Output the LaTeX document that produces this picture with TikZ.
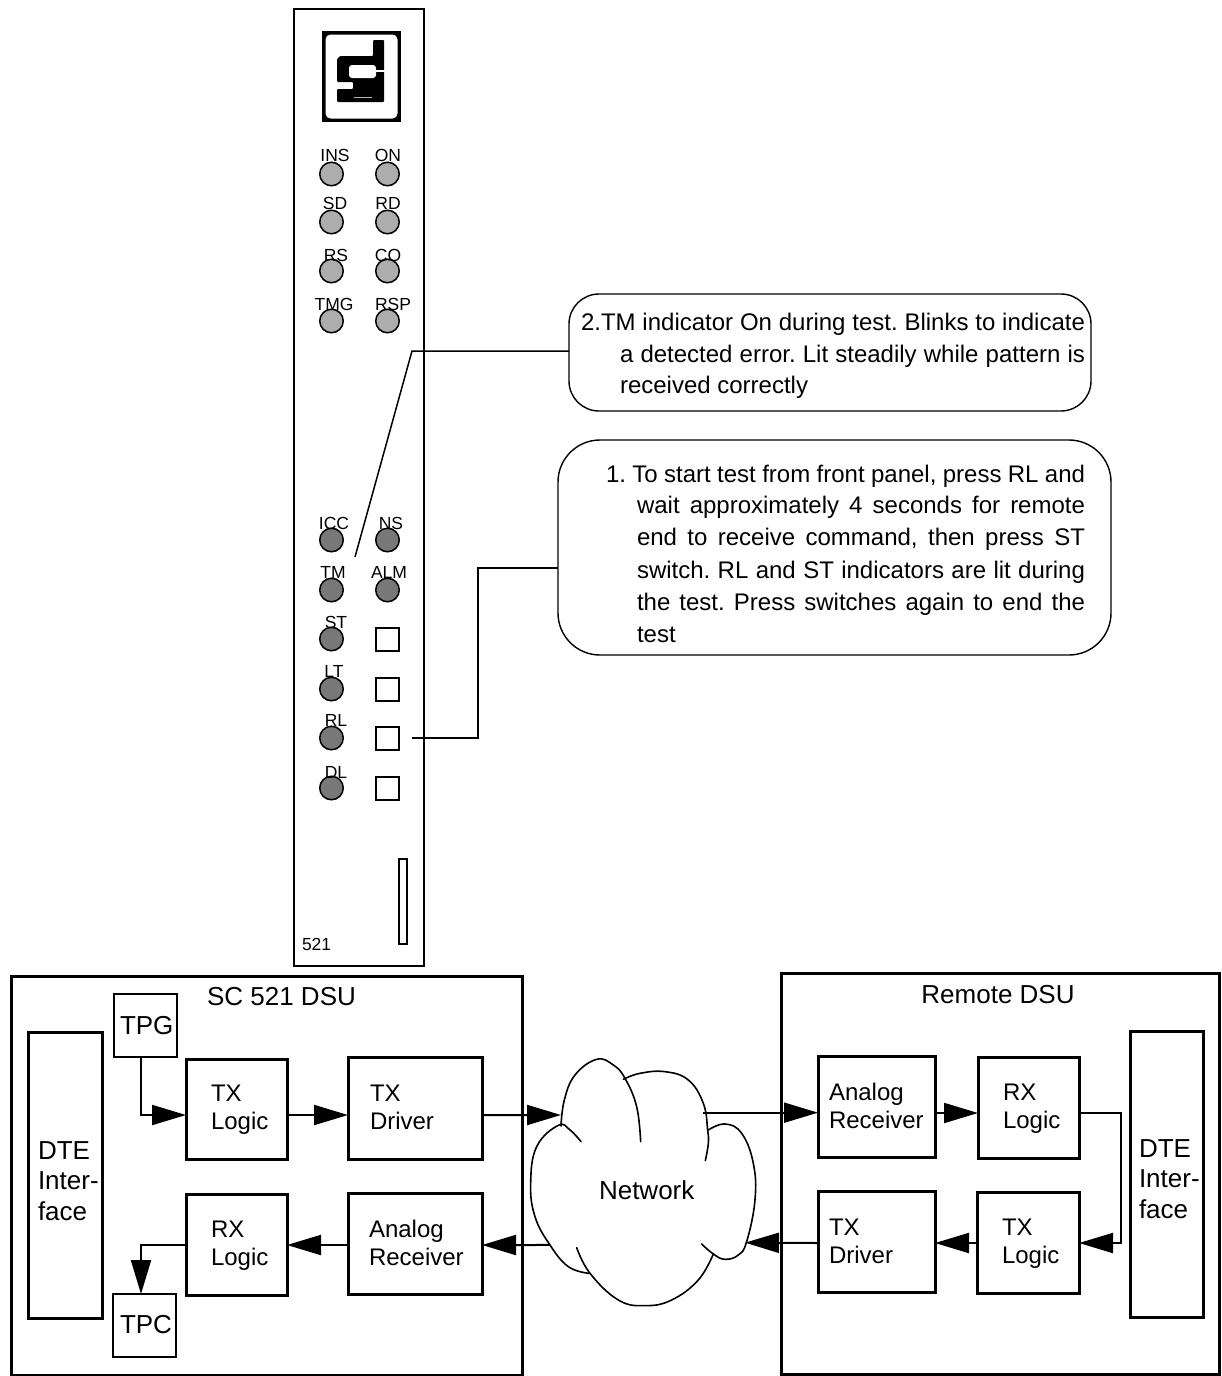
\documentclass[tikz,border=0pt]{standalone}
\usepackage{fontspec}
\setmainfont{Liberation Sans}
\usetikzlibrary{arrows.meta}
\definecolor{ledlight}{gray}{0.68}
\definecolor{leddark}{gray}{0.47}
\tikzset{
 x=1pt,y=-1pt,
 every node/.append style={outer sep=0pt},
 box/.style={draw,line width=3pt,anchor=north west,inner sep=0pt},
 tbox/.style={draw,line width=2pt,anchor=north west,inner sep=0pt},
 lab/.style={font=\fontsize{24}{28}\selectfont,inner sep=0pt,align=left,anchor=west},
 labbig/.style={font=\fontsize{26}{30.5}\selectfont,inner sep=0pt,align=left},
 led/.style={draw,circle,line width=1.5pt,minimum size=23.5pt,inner sep=0pt},
 ledA/.style={led,fill=ledlight},
 ledB/.style={led,fill=leddark},
 pl/.style={font=\fontsize{17.5}{20}\selectfont,inner sep=0pt},
 sw/.style={draw,line width=2pt,minimum size=23pt,inner sep=0pt},
 conn/.style={line width=2pt},
 big/.style={-{Triangle[length=34pt,width=20pt]},line width=2pt},
 note/.style={font=\fontsize{24}{32}\selectfont\frenchspacing,inner sep=0pt,anchor=base west},
 cloudline/.style={line width=1.6pt,line cap=round},
}
\begin{document}
\begin{tikzpicture}
\useasboundingbox (0,0) rectangle (1222,1376);
% panel
\node[draw,line width=1.8pt,anchor=north west,minimum width=130pt,minimum height=957pt,inner sep=0pt] (panel) at (294,9) {};
\node[draw=black,line width=3pt,fill=black,anchor=north west,minimum width=76pt,minimum height=88pt,inner sep=0pt] (logo) at (323.5,32.5) {};
\fill[white,rounded corners=5pt] (325.5,34.5) rectangle (397.5,118.5);
\fill[black,rounded corners=1pt] (373,40) -- (384,40) -- (384,102) -- (337,102) -- (337,89) -- (353,89) -- (353,82) -- (337,82) -- (337,59) -- (340,56) -- (373,56) -- cycle;
\fill[white,rounded corners=3pt] (349,65) rectangle (376,78);
\fill[white] (372,65) rectangle (374,78);
\draw[white,line width=1.2pt] (372,71) -- (385,71);
\draw[white,line width=1pt] (337,87.5) -- (352,87.5);
\draw[gray!60,line width=1pt] (354,97) -- (372,97);
% LEDs
\foreach \n/\x/\y in {a/331.5/174,b/387.5/174,c/331.5/222,d/387.5/222,e/331.5/271,f/387.5/271,g/331.5/321,h/387.5/321}{
 \node[ledA] (l\n) at (\x,\y) {};
}
\foreach \n/\x/\y in {i/331.5/540,j/387.5/540,k/331.5/590,l/387.5/590,m/331.5/639,n/331.5/689,o/331.5/738,p/331.5/788}{
 \node[ledB] (l\n) at (\x,\y) {};
}
\foreach \n/\t/\x/\y in {a/INS/335/155,b/ON/388/155,c/SD/335/203,d/RD/388/203,e/RS/336/255,f/CO/388/255,g/TMG/334/304,h/RSP/393/304,
 i/ICC/334/523,j/NS/391/523,k/TM/333/572,l/ALM/389/572,m/ST/336/622,n/LT/334/671,o/RL/336/720,p/DL/336/772}{
 \node[pl] (t\n) at (\x,\y) {\t};
}
\node[sw] (s1) at (387.5,639) {};
\node[sw] (s2) at (387.5,689) {};
\node[sw] (s3) at (387.5,738) {};
\node[sw] (s4) at (387.5,788) {};
\node[draw,line width=1.8pt,anchor=north west,minimum width=8pt,minimum height=85pt,inner sep=0pt] (slot) at (399,859) {};
\node[pl,anchor=west] (num) at (302,944) {521};
% callouts
\node[draw,line width=1.4pt,rounded corners=30pt,anchor=north west,minimum width=522pt,minimum height=117pt,inner sep=0pt] (c2) at (569,294) {};
\node[draw,line width=1.4pt,rounded corners=42pt,anchor=north west,minimum width=553pt,minimum height=215pt,inner sep=0pt] (c1) at (558,440) {};
\node[note] (n2a) at (581,330) {\makebox[504pt][s]{2.TM indicator On during test. Blinks to indicate}};
\node[note] (n2b) at (620,362) {\makebox[465pt][s]{a detected error. Lit steadily while pattern is}};
\node[note] (n2c) at (620,393) {received correctly};
\node[note] (n1a) at (606,482) {\makebox[479pt][s]{1. To start test from front panel, press RL and}};
\node[note] (n1b) at (637,513) {\makebox[448pt][s]{wait approximately 4 seconds for remote}};
\node[note] (n1c) at (637,545) {\makebox[448pt][s]{end to receive command, then press ST}};
\node[note] (n1d) at (637,578) {\makebox[448pt][s]{switch. RL and ST indicators are lit during}};
\node[note] (n1e) at (637,610) {\makebox[448pt][s]{the test. Press switches again to end the}};
\node[note] (n1f) at (637,642) {test};
\coordinate (c2s) at (355,557);
\coordinate (c2k) at (412,351);
\coordinate (c1s) at (412,738);
\coordinate (c1k) at (478,738);
\coordinate (c1t) at (478,568);
\draw[line width=1.5pt] (c2s) -- (c2k) -- (c2k-|c2.west);
\draw[conn] (c1s) -- (c1k) -- (c1t) -- (c1t-|c1.west);
% DSU containers
\node[box,minimum width=511pt,minimum height=399pt] (dsu) at (11,976) {};
\node[box,minimum width=438pt,minimum height=401pt] (rem) at (781,973) {};
\node[labbig] (dsut) at (281.5,997) {SC 521 DSU};
\node[labbig] (remt) at (998,995) {Remote DSU};
% left blocks
\node[tbox,minimum width=63pt,minimum height=63pt] (tpg) at (114,994) {};
\node[labbig,anchor=west] (tpgt) at (120,1026) {TPG};
\node[box,minimum width=74pt,minimum height=286pt] (dtel) at (28,1032) {};
\node[labbig,anchor=west] (dtelt) at (38,1181) {DTE\\Inter-\\face};
\node[box,minimum width=101pt,minimum height=100pt] (txl) at (186,1059) {};
\node[lab] (txlt) at (211,1110) {TX\\Logic};
\node[box,minimum width=134pt,minimum height=102pt] (drv) at (348,1057) {};
\node[lab] (drvt) at (370,1107) {TX\\Driver};
\node[box,minimum width=101pt,minimum height=101pt] (rxl) at (186,1194) {};
\node[lab] (rxlt) at (211,1246) {RX\\Logic};
\node[box,minimum width=134pt,minimum height=101pt] (ana) at (348,1193) {};
\node[lab] (anat) at (369,1243) {Analog\\Receiver};
\node[tbox,minimum width=63pt,minimum height=63pt] (tpc) at (113,1294) {};
\node[labbig,anchor=west] (tpct) at (120,1325) {TPC};
% right blocks
\node[box,minimum width=117pt,minimum height=101pt] (anr) at (818,1056) {};
\node[lab] (anrt) at (829,1106) {Analog\\Receiver};
\node[box,minimum width=101pt,minimum height=101pt] (rxr) at (978,1057) {};
\node[lab] (rxrt) at (1003,1109) {RX\\Logic};
\node[box,minimum width=117pt,minimum height=101pt] (drr) at (818,1191) {};
\node[lab] (drrt) at (829,1241) {TX\\Driver};
\node[box,minimum width=102pt,minimum height=101pt] (txr) at (977,1192) {};
\node[lab] (txrt) at (1002,1244) {TX\\Logic};
\node[box,minimum width=73pt,minimum height=286pt] (dter) at (1130,1031) {};
\node[labbig,anchor=west] (dtert) at (1139,1179) {DTE\\Inter-\\face};
% cloud
\begin{scope}[xshift=525pt,yshift=-1050pt,x=.3333pt,y=-.3333pt]
\draw[cloudline] plot[smooth,tension=.7] coordinates {(108,228) (118,150) (150,75) (215,28) (265,45) (300,85) (335,170) (347,275)};
\draw[cloudline] plot[smooth,tension=.7] coordinates {(295,88) (345,70) (420,65) (490,90) (535,160) (548,240) (550,280) (541,332)};
\draw[cloudline] plot[smooth,tension=.7] coordinates {(550,240) (600,222) (650,250) (685,340) (690,450) (665,575) (640,615) (600,628) (565,612) (530,582)};
\draw[cloudline] plot[smooth,tension=.7] coordinates {(565,612) (520,690) (440,750) (360,767) (280,750) (195,670) (155,593)};
\draw[cloudline] plot[smooth,tension=.7] coordinates {(192,670) (130,650) (75,585) (30,500) (17,400) (35,290) (100,226) (135,240) (168,275)};
\coordinate (cin) at (108,195);
\coordinate (cout) at (535,188);
\coordinate (crin) at (660,578);
\coordinate (crout) at (75,585);
\end{scope}
\node[labbig] (net) at (646.7,1190) {Network};
% connectors
\coordinate (ya) at (0,1115);
\coordinate (yb) at (0,1245);
\coordinate (yc) at (0,1113);
\coordinate (yd) at (0,1243);
\coordinate (xe) at (1121,0);
\coordinate (xf) at (141,0);
\draw[big] (tpg.south-|xf) |- (txl.west|-ya);
\draw[big] (txl.east|-ya) -- (drv.west|-ya);
\draw[big] (drv.east|-ya) -- (cin);
\draw[big] (ana.west|-yb) -- (rxl.east|-yb);
\draw[big] (crout) -- (ana.east|-yb);
\draw[big] (rxl.west|-yb) -| (tpc.north-|xf);
\draw[big] (cout) -- (anr.west|-cout);
\draw[big] (anr.east|-yc) -- (rxr.west|-yc);
\draw[big] (rxr.east|-yc) -- (xe|-yc) -- (xe|-yd) -- (txr.east|-yd);
\draw[big] (txr.west|-yd) -- (drr.east|-yd);
\draw[big] (drr.west|-yd) -- (crin);
\end{tikzpicture}
\end{document}
